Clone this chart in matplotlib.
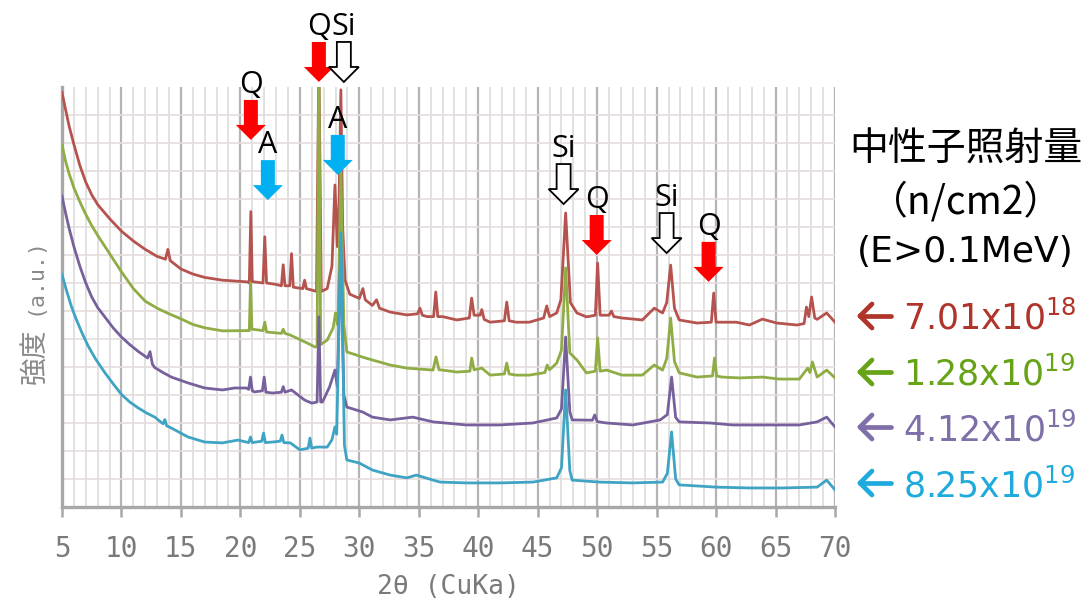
import matplotlib
matplotlib.use("Agg")
import matplotlib.pyplot as plt
import matplotlib.transforms as mtransforms
from matplotlib.patches import Polygon
from matplotlib.lines import Line2D

# ---- XRD patterns (2theta, intensity a.u.), one list per irradiation dose ----
two_theta_r = [5.0, 5.3, 5.6, 6.0, 6.5, 7.0, 7.5, 8.0, 9.0, 10.0, 11.0, 12.0, 13.0, 13.7, 13.9, 14.1,
               15.0, 16.0, 17.0, 18.5,
               20.6, 20.75, 20.88, 21.0, 21.9, 22.05, 22.2, 23.0, 23.45, 23.6, 23.75, 24.15, 24.3,
               24.45, 25.25, 25.4, 25.55, 26.4, 26.6, 26.8, 27.3, 27.7, 27.95, 28.15, 28.3, 28.45,
               28.6, 28.8, 29.2, 30.0, 30.3, 30.5, 31.1, 31.45, 31.7, 32.6, 34.0, 34.9, 35.1, 35.3,
               35.7, 36.25, 36.43, 36.6, 37.0, 38.2, 39.25, 39.45, 39.65, 40.15, 40.3, 40.5, 41.0,
               42.2, 42.4, 42.6, 43.2, 44.3, 45.5, 45.76, 46.0, 46.6, 46.95, 47.35, 47.75, 48.3,
               49.1, 49.85, 50.04, 50.25, 51.0, 51.2, 51.4, 52.1, 53.8, 54.8, 55.5, 55.85, 56.18,
               56.5, 56.9, 58.4, 59.6, 59.8, 60.0, 60.3, 61.7, 62.8, 63.9, 65.1, 66.8, 67.4, 67.6,
               67.8, 68.03, 68.3, 68.5, 69.3, 70.0]
intensity_r = [14.8, 14.2, 13.6, 12.95, 12.2, 11.6, 11.15, 10.8, 10.3, 9.85, 9.5, 9.2, 8.95, 8.85, 9.2, 8.8,
               8.5, 8.32, 8.2, 8.1,
               8.04, 8.0, 10.55, 8.05, 8.0, 9.65, 8.0, 7.95, 7.9, 8.65, 7.9, 7.9, 9.05,
               7.85, 7.8, 8.1, 7.8, 7.7, 16.0, 7.7, 7.8, 8.6, 11.5, 9.3, 11.0, 14.9,
               10.0, 8.1, 7.6, 7.45, 7.8, 7.4, 7.2, 7.4, 7.1, 6.96, 6.86, 6.9, 7.1, 6.85,
               6.8, 6.8, 7.68, 6.8, 6.8, 6.68, 6.75, 7.46, 6.85, 6.85, 7.05, 6.7, 6.6,
               6.65, 7.32, 6.65, 6.6, 6.6, 6.75, 7.18, 6.8, 6.93, 7.4, 10.5, 7.3, 6.93,
               6.79, 6.85, 8.71, 6.85, 6.85, 7.0, 6.8, 6.75, 6.68, 7.1, 6.93, 7.3, 8.64,
               7.1, 6.68, 6.57, 6.6, 7.64, 6.6, 6.6, 6.6, 6.5, 6.71, 6.57, 6.5, 6.55, 7.14,
               6.8, 7.5, 6.75, 6.7, 6.93, 6.6]

two_theta_g = [5.0, 5.3, 5.6, 6.0, 6.5, 7.0, 7.5, 8.0, 9.0, 10.0, 11.0, 12.0, 13.0, 14.0, 15.0, 16.0,
               17.0, 18.5, 20.6, 20.75,
               20.85, 20.97, 21.9, 22.05, 22.2, 23.45, 23.6, 23.75, 24.2, 25.6, 26.3, 26.45, 26.6,
               26.75, 27.3, 27.8, 28.0, 28.2, 28.45, 28.7, 28.95, 30.3, 31.1, 32.6, 34.0, 36.2,
               36.45, 36.7, 37.0, 38.2, 39.3, 39.45, 39.65, 40.3, 41.0, 42.2, 42.4, 42.6, 43.2,
               44.3, 45.6, 45.8, 46.0, 46.6, 47.0, 47.35, 47.7, 48.3, 49.1, 49.85, 50.04, 50.25,
               50.8, 52.1, 53.8, 54.8, 55.5, 55.85, 56.18, 56.5, 56.9, 58.4, 59.7, 59.87, 60.05,
               60.5, 62.0, 63.9, 65.3, 67.0, 67.7, 67.9, 68.1, 68.5, 69.3, 70.0]
intensity_g = [12.93, 12.35, 11.9, 11.4, 10.9, 10.45, 10.05, 9.7, 9.05, 8.4, 7.8, 7.35, 7.1, 6.9, 6.72, 6.52,
               6.4, 6.29, 6.3, 6.3,
               8.0, 6.35, 6.3, 6.6, 6.25, 6.2, 6.35, 6.2, 6.14, 5.86, 5.71, 5.75, 16.0,
               5.8, 5.96, 6.4, 6.93, 6.5, 12.0, 6.5, 5.54, 5.35, 5.25, 5.07, 4.96, 4.89,
               5.36, 4.9, 4.89, 4.82, 4.85, 5.32, 4.9, 4.96, 4.71, 4.75, 5.14, 4.75, 4.71,
               4.71, 4.8, 5.07, 4.9, 5.14, 5.6, 8.54, 5.5, 5.25, 4.79, 4.85, 6.04, 4.85,
               4.89, 4.71, 4.71, 5.07, 4.89, 5.3, 6.75, 5.2, 4.79, 4.64, 4.68, 5.32, 4.68,
               4.64, 4.61, 4.64, 4.57, 4.57, 4.96, 4.8, 5.18, 4.64, 4.89, 4.61]

two_theta_p = [5.0, 5.3, 5.6, 6.0, 6.5, 7.0, 7.5, 8.0, 8.6, 9.3, 10.0, 10.7, 11.4, 12.2, 12.4, 12.6,
               12.8, 13.5, 14.2, 15.6, 17.0,
               18.5, 19.5, 20.5, 20.7, 20.85, 21.0, 21.2, 21.85, 22.0, 22.15, 22.7, 23.45, 23.6,
               23.75, 24.3, 25.4, 26.0, 26.45, 26.6, 26.75, 26.9, 27.5, 27.95, 28.15, 28.45, 28.7,
               28.95, 30.3, 31.1, 32.6, 34.5, 36.2, 39.0, 41.8, 44.6, 46.6, 47.0, 47.35, 47.7,
               47.9, 49.6, 49.8, 50.0, 50.8, 53.0, 55.3, 55.9, 56.26, 56.6, 56.9, 59.5, 61.4,
               64.2, 67.0, 68.5, 69.3, 70.0]
intensity_p = [11.1, 10.5, 9.95, 9.3, 8.6, 8.0, 7.5, 7.12, 6.79, 6.4, 6.07, 5.8, 5.56, 5.32, 5.55, 5.1,
               4.98, 4.8, 4.64, 4.43, 4.25,
               4.18, 4.25, 4.25, 4.2, 4.64, 4.15, 4.11, 4.15, 4.64, 4.1, 4.07, 4.1, 4.3,
               4.1, 4.18, 3.82, 3.71, 3.75, 6.79, 3.75, 3.75, 4.29, 4.89, 4.3, 9.2, 4.0,
               3.57, 3.39, 3.21, 3.11, 3.21, 3.04, 2.93, 2.93, 3.0, 3.18, 3.5, 6.07, 3.4,
               3.11, 3.1, 3.29, 3.05, 3.0, 2.93, 3.11, 3.3, 4.64, 3.2, 3.04, 3.0, 2.93,
               2.93, 2.93, 3.04, 3.21, 2.86]

two_theta_b = [5.0, 5.4, 5.8, 6.2, 6.7, 7.2, 7.8, 8.6, 9.3, 10.0, 10.7, 11.4, 12.1, 12.8, 13.5, 13.65,
               13.8, 14.2, 15.6, 17.0, 18.5,
               19.8, 20.7, 20.85, 21.0, 21.8, 21.95, 22.1, 22.7, 23.35, 23.5, 23.65, 24.2, 25.0,
               25.7, 25.85, 26.0, 26.4, 27.3, 27.7, 27.95, 28.1, 28.45, 28.75, 28.95, 30.0, 31.1,
               32.6, 34.0, 34.8, 36.2, 36.8, 39.0, 41.8, 44.6, 46.6, 47.0, 47.35, 47.7, 47.9,
               50.2, 53.0, 55.5, 55.9, 56.26, 56.6, 56.9, 60.0, 62.8, 65.6, 68.5, 69.3, 70.0]
intensity_b = [8.3, 7.7, 7.15, 6.7, 6.2, 5.75, 5.3, 4.8, 4.4, 4.02, 3.75, 3.54, 3.36, 3.21, 2.97, 3.12,
               2.9, 2.82, 2.5, 2.32, 2.29,
               2.39, 2.3, 2.5, 2.3, 2.35, 2.64, 2.3, 2.32, 2.35, 2.57, 2.3, 2.29, 2.04,
               2.1, 2.46, 2.1, 2.14, 2.14, 2.4, 2.86, 2.6, 9.79, 2.2, 1.68, 1.57, 1.32,
               1.14, 1.04, 1.14, 0.96, 0.89, 0.86, 0.86, 0.89, 1.04, 1.4, 4.18, 1.3, 0.96,
               0.89, 0.86, 0.89, 1.2, 2.68, 1.0, 0.79, 0.71, 0.68, 0.68, 0.71, 0.96, 0.61]

line_colors = ["#b5534f", "#8fac45", "#76619c", "#3fa3c4"]
dose_labels = ["7.01x10$^{18}$", "1.28x10$^{19}$", "4.12x10$^{19}$", "8.25x10$^{19}$"]
dose_colors = ["#b0342a", "#66a316", "#7f6fa8", "#1eaadc"]

x_ticks = [5, 10, 15, 20, 25, 30, 35, 40, 45, 50, 55, 60, 65, 70]

# Phase markers: (label, 2theta, intensity at arrow tip, kind)
marker_labels = ["Q", "A", "Q", "Si", "A", "Si", "Q", "Si", "Q"]
marker_theta = [20.88, 22.31, 26.6, 28.7, 28.19, 47.18, 49.96, 55.84, 59.37]
marker_tip = [13.11, 10.96, 15.18, 15.18, 11.86, 10.82, 9.0, 9.07, 8.04]
marker_kind = ["Q", "A", "Q", "Si", "A", "Si", "Q", "Si", "Q"]
marker_face = {"Q": "#ff0000", "A": "#00b0f0", "Si": "#ffffff"}
marker_edge = {"Q": "none", "A": "none", "Si": "#000000"}

W, H, DPI = 1089, 605, 100
fig = plt.figure(figsize=(W / DPI, H / DPI), dpi=DPI)
fig.patch.set_facecolor("white")
ax = fig.add_axes([62 / W, 1 - 507 / H, (835 - 62) / W, (507 - 87) / H])

series = [(two_theta_r, intensity_r), (two_theta_g, intensity_g),
          (two_theta_p, intensity_p), (two_theta_b, intensity_b)]
for (xs, ys), c in zip(series, line_colors):
    ax.plot(xs, ys, color=c, lw=2.0, solid_joinstyle="round", zorder=3)

ax.set_xlim(5, 70)
ax.set_ylim(0, 15)
ax.set_xticks(x_ticks)
ax.set_xticks(range(5, 71), minor=True)
ax.set_yticks(range(1, 15))
ax.set_axisbelow(True)
ax.grid(which="minor", axis="x", color="#dedede", lw=1.3)
ax.grid(which="major", axis="x", color="#b4b4b4", lw=1.6)
ax.grid(which="major", axis="y", color="#e6dddd", lw=1.2)

for side in ("top", "right"):
    ax.spines[side].set_visible(False)
for side in ("left", "bottom"):
    ax.spines[side].set_color("#a8a8a8")
    ax.spines[side].set_linewidth(2.4)

ax.tick_params(axis="y", which="both", length=0, labelleft=False)
ax.tick_params(axis="x", which="minor", length=0)
ax.tick_params(axis="x", which="major", length=7, width=1.8, color="#a8a8a8",
               pad=13, labelsize=20, labelcolor="#7a7a7a")
for lab in ax.get_xticklabels():
    lab.set_family("DejaVu Sans Mono")

ax.set_xlabel("2θ (CuKa)", family="DejaVu Sans Mono", size=19, color="#7a7a7a", labelpad=8)
# vertical axis title, kanji part and unit part
fig.text(35 / W, 1 - 356 / H, "強度", rotation=90, ha="center", va="center",
         color="#8a8a8a", size=20, family=["Noto Sans CJK JP"])
fig.text(35 / W, 1 - 276 / H, "(a.u.)", rotation=90, ha="center", va="center",
         color="#8a8a8a", size=15.5, family=["DejaVu Sans Mono"])

# Block arrows pointing down at the peaks, shape given in pixels relative to the tip
arrow_shape = [(0, 0), (-15, 15), (-7, 15), (-7, 40), (7, 40), (7, 15), (15, 15)]
arrow_shape_in = [(x / DPI, y / DPI) for x, y in arrow_shape]
for lab, th, tip, kind in zip(marker_labels, marker_theta, marker_tip, marker_kind):
    trans = fig.dpi_scale_trans + mtransforms.ScaledTranslation(th, tip, ax.transData)
    poly = Polygon(arrow_shape_in, closed=True, transform=trans,
                   facecolor=marker_face[kind], edgecolor=marker_edge[kind],
                   lw=1.3, clip_on=False, zorder=6)
    ax.add_patch(poly)
    ax.annotate(lab, xy=(th, tip), xytext=(0, 47), textcoords="offset pixels",
                ha="center", va="baseline", size=22, family="Open Sans",
                color="black", annotation_clip=False, zorder=7)

# Dose legend on the right
fig.text(966 / W, 1 - 150 / H, "中性子照射量", ha="center", va="center",
         size=28, family=["Noto Sans CJK JP"], color="black")
fig.text(966 / W, 1 - 202 / H, "（n/cm2）", ha="center", va="center",
         size=28, family=["Noto Sans CJK JP"], color="black")
fig.text(965 / W, 1 - 252 / H, "(E>0.1MeV)", ha="center", va="center",
         size=26, family="DejaVu Sans", color="black")

baselines = [330, 386, 441, 497]
for lab, c, base in zip(dose_labels, dose_colors, baselines):
    fig.text(903 / W, 1 - base / H, lab, ha="left", va="baseline",
             size=25, family="DejaVu Sans", color=c)
    yc = base - 14
    # left-pointing arrow: shaft plus two head strokes (pixel positions)
    pts = [((891, yc), (860, yc)), ((872, yc - 12), (860, yc)), ((872, yc + 12), (860, yc))]
    for (x0, y0), (x1, y1) in pts:
        fig.add_artist(Line2D([x0 / W, x1 / W], [1 - y0 / H, 1 - y1 / H],
                              transform=fig.transFigure, color=c, lw=3.4,
                              solid_capstyle="round"))

fig.savefig("out.png", dpi=DPI)
